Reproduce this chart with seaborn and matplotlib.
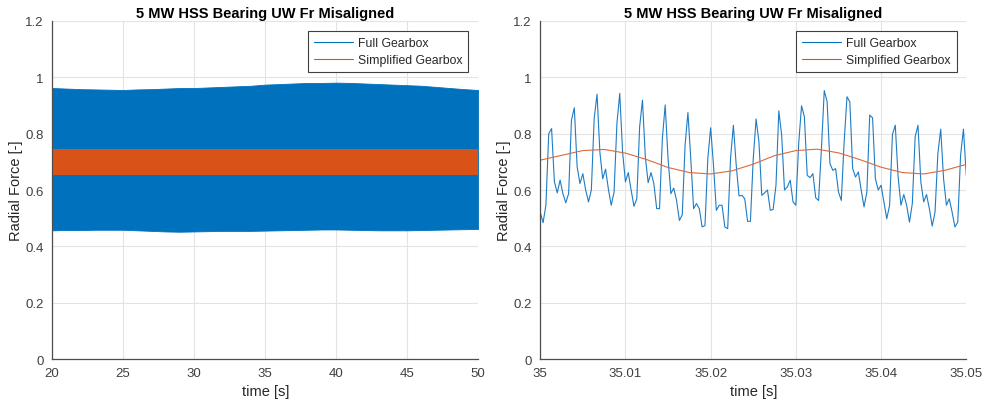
import numpy as np
import pandas as pd
import matplotlib
matplotlib.use("Agg")
import matplotlib.pyplot as plt
from matplotlib.lines import Line2D
import seaborn as sns

# ---------------- data ----------------
TITLE = "5 MW HSS Bearing UW Fr Misaligned"
SERIES = ["Full Gearbox", "Simplified Gearbox"]

# Left panel: 20-50 s, envelope of the dense signals (1 s steps)
long_time = list(range(20, 51))
full_upper = [0.962, 0.960, 0.958, 0.957, 0.956, 0.955, 0.957, 0.958, 0.960, 0.962,
              0.962, 0.964, 0.966, 0.968, 0.970, 0.974, 0.976, 0.978, 0.980, 0.980,
              0.981, 0.980, 0.978, 0.976, 0.974, 0.972, 0.970, 0.966, 0.962, 0.958,
              0.955]
full_lower = [0.457, 0.458, 0.458, 0.459, 0.459, 0.459, 0.457, 0.455, 0.453, 0.452,
              0.453, 0.454, 0.455, 0.455, 0.455, 0.456, 0.457, 0.458, 0.459, 0.460,
              0.460, 0.459, 0.458, 0.457, 0.457, 0.457, 0.458, 0.459, 0.460, 0.461,
              0.462]
simp_upper = [0.745] * 31
simp_lower = [0.655] * 31

# Right panel: 35.00-35.05 s
full_zoom = [
    0.522, 0.484, 0.546, 0.800, 0.818, 0.629, 0.590, 0.635, 0.587, 0.555,
    0.587, 0.848, 0.892, 0.682, 0.623, 0.658, 0.600, 0.558, 0.600, 0.854,
    0.940, 0.735, 0.640, 0.674, 0.603, 0.546, 0.593, 0.836, 0.943, 0.735,
    0.629, 0.662, 0.600, 0.542, 0.569, 0.824, 0.919, 0.718, 0.626, 0.662,
    0.623, 0.534, 0.534, 0.783, 0.902, 0.712, 0.587, 0.607, 0.563, 0.492,
    0.512, 0.759, 0.875, 0.712, 0.534, 0.552, 0.534, 0.469, 0.474, 0.712,
    0.821, 0.688, 0.528, 0.546, 0.546, 0.469, 0.463, 0.712, 0.830, 0.688,
    0.579, 0.581, 0.569, 0.489, 0.489, 0.712, 0.852,
    0.771, 0.581, 0.590, 0.600, 0.528, 0.531, 0.617, 0.881, 0.795, 0.600,
    0.611, 0.635, 0.558, 0.546, 0.765, 0.899, 0.860, 0.652, 0.644, 0.658,
    0.572, 0.563, 0.747, 0.953, 0.913, 0.694, 0.670, 0.676, 0.593, 0.563,
    0.771, 0.931, 0.913, 0.676, 0.646, 0.664, 0.600, 0.540, 0.593, 0.866,
    0.856, 0.640, 0.600, 0.617, 0.558, 0.498, 0.546, 0.797, 0.830, 0.646,
    0.546, 0.584, 0.546, 0.486, 0.552, 0.789, 0.830, 0.629, 0.558, 0.584,
    0.534, 0.472, 0.522, 0.730, 0.816, 0.640, 0.546, 0.569, 0.522, 0.469,
    0.486, 0.724, 0.816, 0.652,
]
simp_zoom = [0.706, 0.723, 0.740, 0.744, 0.731, 0.708, 0.680, 0.662, 0.657, 0.668,
             0.692, 0.722, 0.740, 0.745, 0.732, 0.708, 0.681, 0.662, 0.657, 0.670,
             0.691]
zoom_start, zoom_end = 35.0, 35.05

y_ticks = [0, 0.2, 0.4, 0.6, 0.8, 1.0, 1.2]
y_tick_labels = ["0", "0.2", "0.4", "0.6", "0.8", "1", "1.2"]
x_ticks_left = [20, 25, 30, 35, 40, 45, 50]
x_ticks_right = [35, 35.01, 35.02, 35.03, 35.04, 35.05]
x_tick_labels_right = ["35", "35.01", "35.02", "35.03", "35.04", "35.05"]

# ---------------- style ----------------
sns.set_theme(style="whitegrid")
plt.rcParams["font.family"] = ["Liberation Sans", "DejaVu Sans"]
BLUE = "#0072BD"
ORANGE = "#D95319"
DARK = "#262626"
TICK = "#404040"

fig = plt.figure(figsize=(9.84, 4.06), dpi=100)
ax1 = fig.add_axes([0.053, 0.113, 0.433, 0.833])
ax2 = fig.add_axes([0.549, 0.113, 0.433, 0.833])

# left panel
ax1.fill_between(long_time, full_lower, full_upper, color=BLUE, lw=0.6, edgecolor=BLUE)
ax1.fill_between(long_time, simp_lower, simp_upper, color=ORANGE, lw=0, edgecolor=ORANGE)
ax1.set_xlim(20, 50)
ax1.set_xticks(x_ticks_left)

# right panel
t_full = np.linspace(zoom_start, zoom_end, len(full_zoom))
t_simp = np.linspace(zoom_start, zoom_end, len(simp_zoom))
df = pd.concat([
    pd.DataFrame({"time": t_full, "force": full_zoom, "model": SERIES[0]}),
    pd.DataFrame({"time": t_simp, "force": simp_zoom, "model": SERIES[1]}),
])
sns.lineplot(data=df, x="time", y="force", hue="model",
             palette={SERIES[0]: "#1f7cc4", SERIES[1]: "#dc6a3a"},
             linewidth=0.8, ax=ax2, legend=False, estimator=None, sort=False)
ax2.set_xlim(zoom_start, zoom_end)
ax2.set_xticks(x_ticks_right)
ax2.set_xticklabels(x_tick_labels_right)

handles = [Line2D([], [], color=BLUE, lw=0.8), Line2D([], [], color=ORANGE, lw=0.8)]
for ax in (ax1, ax2):
    ax.set_facecolor("white")
    ax.set_ylim(0, 1.2)
    ax.set_yticks(y_ticks)
    ax.set_yticklabels(y_tick_labels)
    ax.grid(True, color="#e3e3e3", lw=0.8)
    ax.set_axisbelow(True)
    for s in ("top", "right"):
        ax.spines[s].set_visible(False)
    for s in ("left", "bottom"):
        ax.spines[s].set_color("#4d4d4d")
        ax.spines[s].set_linewidth(0.9)
    ax.tick_params(direction="in", length=4, width=0.8, colors="#4d4d4d",
                   labelcolor=TICK, labelsize=9.5, pad=6)
    ax.set_xlabel("time [s]", fontsize=10.5, color=DARK, labelpad=3)
    ax.set_ylabel("Radial Force [-]", fontsize=10.5, color=DARK, labelpad=2)
    ax.set_title(TITLE, fontsize=10.5, fontweight="bold", color="black", pad=3)
    leg = ax.legend(handles, SERIES, loc="upper right", fontsize=8.8,
                    frameon=True, fancybox=False, framealpha=1,
                    edgecolor="#404040", handlelength=3.2, handletextpad=0.4,
                    borderpad=0.5, labelspacing=0.45, borderaxespad=0.8)
    leg.get_frame().set_linewidth(0.8)

fig.savefig("out.png", dpi=100, facecolor="white")
